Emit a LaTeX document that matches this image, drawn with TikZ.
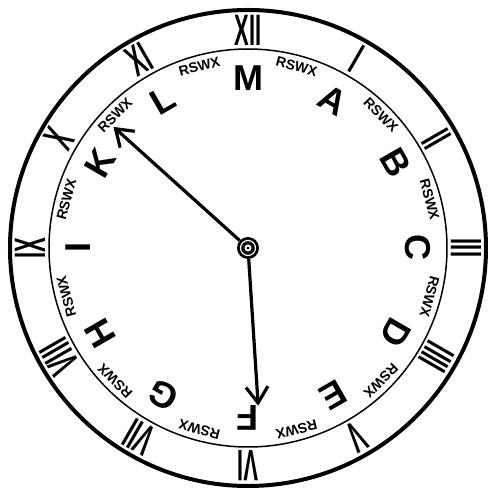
\documentclass[tikz,border=0pt]{standalone}
\usepackage{fontspec}
\newfontfamily\dialfont{Liberation Sans}
\usetikzlibrary{arrows.meta}
\tikzset{
  numl/.style={font=\dialfont\bfseries\fontsize{44}{44}\selectfont, inner sep=0pt},
  letl/.style={font=\dialfont\bfseries\fontsize{36}{36}\selectfont, inner sep=0pt},
  tagl/.style={font=\dialfont\bfseries\fontsize{14}{14}\selectfont, inner sep=0pt},
  hub/.style={circle, fill=black, minimum size=22pt, inner sep=0pt},
  hand/.style={-{Straight Barb[length=16pt,width=22pt]}, line width=3.2pt},
}

\begin{document}
\begin{tikzpicture}[x=1pt,y=1pt]
  \useasboundingbox (-248,-241) rectangle (242,248);
  % dial rings
  \draw[line width=4pt] (0,0) circle (238);
  \draw[line width=1.5pt] (0,0) circle (199);

  % hours, letters and the small tags between them
  \foreach \txt [count=\i from 0] in {XII,I,II,III,IIII,V,VI,VII,VIII,IX,X,XI}
    \node[numl, rotate=-30*\i] (num\i) at (90-30*\i:218) {\scalebox{0.5}[1]{\txt}};
  \foreach \txt [count=\i from 0] in {M,A,B,C,D,E,F,G,H,I,K,L}
    \node[letl, rotate=-30*\i] (let\i) at (90-30*\i:170) {\txt};
  \foreach \i in {0,...,11}
    \node[tagl, rotate=-15-30*\i] (tag\i) at (75-30*\i:188) {RSWX};

  % hands
  \node[hub] (hub) at (0,0) {};
  \coordinate (tipK) at (138:181);
  \coordinate (tipF) at (-86.3:158);
  \draw[hand] (hub) -- (tipK);
  \draw[hand] (hub) -- (tipF);
  \draw[white, line width=1.2pt] (hub.center) circle (7.5);
  \fill[white] (hub.center) circle (3.5);
  \fill (hub.center) circle (1.6);
\end{tikzpicture}
\end{document}
